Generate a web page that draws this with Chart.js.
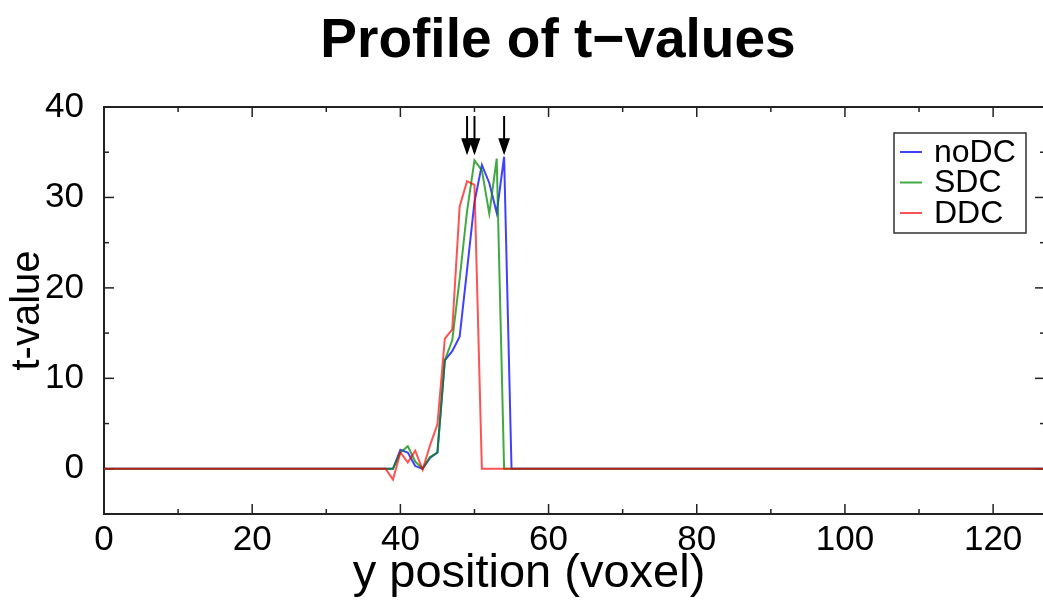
<!DOCTYPE html>
<html>
<head>
<meta charset="utf-8">
<script src="https://cdn.jsdelivr.net/npm/chart.js@4/dist/chart.umd.min.js"></script>
<style>
  html, body { margin: 0; padding: 0; background: #fff; overflow: hidden; }
  #profile_chart { display: block; }
</style>
</head>
<body>
<canvas id="profile_chart" width="1050" height="601"></canvas>
<script>
// t-values along y (voxel index = array position, 0..127)
const noDC = [
  0, 0, 0, 0, 0, 0, 0, 0, 0, 0, 0, 0, 0, 0, 0, 0,
  0, 0, 0, 0, 0, 0, 0, 0, 0, 0, 0, 0, 0, 0, 0, 0,
  0, 0, 0, 0, 0, 0, 0, 0, 2.1, 1.8, 0.3, 0.0, 1.2, 1.8, 12.0, 13.0,
  14.6, 22.0, 29.5, 33.6, 31.6, 28.3, 34.5, 0, 0, 0, 0, 0, 0, 0, 0, 0,
  0, 0, 0, 0, 0, 0, 0, 0, 0, 0, 0, 0, 0, 0, 0, 0,
  0, 0, 0, 0, 0, 0, 0, 0, 0, 0, 0, 0, 0, 0, 0, 0,
  0, 0, 0, 0, 0, 0, 0, 0, 0, 0, 0, 0, 0, 0, 0, 0,
  0, 0, 0, 0, 0, 0, 0, 0, 0, 0, 0, 0, 0, 0, 0, 0
];
const SDC = [
  0, 0, 0, 0, 0, 0, 0, 0, 0, 0, 0, 0, 0, 0, 0, 0,
  0, 0, 0, 0, 0, 0, 0, 0, 0, 0, 0, 0, 0, 0, 0, 0,
  0, 0, 0, 0, 0, 0, 0, 0, 1.8, 2.5, 0.8, 0.0, 1.3, 1.8, 12.0, 14.2,
  21.0, 28.5, 34.1, 33.0, 28.2, 34.3, 0, 0, 0, 0, 0, 0, 0, 0, 0, 0,
  0, 0, 0, 0, 0, 0, 0, 0, 0, 0, 0, 0, 0, 0, 0, 0,
  0, 0, 0, 0, 0, 0, 0, 0, 0, 0, 0, 0, 0, 0, 0, 0,
  0, 0, 0, 0, 0, 0, 0, 0, 0, 0, 0, 0, 0, 0, 0, 0,
  0, 0, 0, 0, 0, 0, 0, 0, 0, 0, 0, 0, 0, 0, 0, 0
];
const DDC = [
  0, 0, 0, 0, 0, 0, 0, 0, 0, 0, 0, 0, 0, 0, 0, 0,
  0, 0, 0, 0, 0, 0, 0, 0, 0, 0, 0, 0, 0, 0, 0, 0,
  0, 0, 0, 0, 0, 0, 0, -1.2, 1.8, 0.7, 2.0, -0.1, 2.6, 4.9, 14.4, 15.4,
  29.0, 31.8, 31.4, 0, 0, 0, 0, 0, 0, 0, 0, 0, 0, 0, 0, 0,
  0, 0, 0, 0, 0, 0, 0, 0, 0, 0, 0, 0, 0, 0, 0, 0,
  0, 0, 0, 0, 0, 0, 0, 0, 0, 0, 0, 0, 0, 0, 0, 0,
  0, 0, 0, 0, 0, 0, 0, 0, 0, 0, 0, 0, 0, 0, 0, 0,
  0, 0, 0, 0, 0, 0, 0, 0, 0, 0, 0, 0, 0, 0, 0, 0
];

// peak markers (arrows above the curves)
const peakX = [49, 50, 54];
const arrowFrom = 39;
const arrowTo = 35;

const xTicks = [0, 20, 40, 60, 80, 100, 120];
const xMinorTicks = [10, 30, 50, 70, 90, 110];
const yTicks = [0, 10, 20, 30, 40];
const yMinorTicks = [-5, 5, 15, 25, 35];

const FONT = '"Liberation Sans", Arial, Helvetica, sans-serif';

const toPoints = arr => arr.map((v, i) => ({ x: i, y: v }));

// frame with inward ticks on all four sides
const framePlugin = {
  id: 'frame',
  beforeDatasetsDraw(chart) {
    const { ctx, chartArea: a, scales: { x, y } } = chart;
    ctx.save();
    ctx.strokeStyle = '#222';
    ctx.lineWidth = 2;
    ctx.strokeRect(a.left, a.top, a.right - a.left, a.bottom - a.top);
    ctx.lineWidth = 1.5;
    const tick = (x1, y1, x2, y2) => { ctx.beginPath(); ctx.moveTo(x1, y1); ctx.lineTo(x2, y2); ctx.stroke(); };
    xTicks.forEach(v => { const p = x.getPixelForValue(v); tick(p, a.bottom, p, a.bottom - 10); tick(p, a.top, p, a.top + 10); });
    xMinorTicks.forEach(v => { const p = x.getPixelForValue(v); tick(p, a.bottom, p, a.bottom - 5); tick(p, a.top, p, a.top + 5); });
    yTicks.forEach(v => { const p = y.getPixelForValue(v); tick(a.left, p, a.left + 10, p); tick(a.right, p, a.right - 10, p); });
    yMinorTicks.forEach(v => { const p = y.getPixelForValue(v); tick(a.left, p, a.left + 5, p); tick(a.right, p, a.right - 5, p); });
    ctx.restore();
  }
};

const decorPlugin = {
  id: 'decor',
  afterDraw(chart) {
    const { ctx, chartArea: a, scales: { x, y } } = chart;
    ctx.save();
    ctx.fillStyle = '#000';

    // title
    ctx.font = 'bold 55px ' + FONT;
    ctx.textAlign = 'center';
    ctx.textBaseline = 'alphabetic';
    ctx.fillText('Profile of t\u2212values', 558, 57);

    // axis titles
    ctx.font = '47px ' + FONT;
    ctx.fillText('y position (voxel)', 529, 587);
    ctx.font = '40px ' + FONT;
    ctx.textBaseline = 'middle';
    ctx.save();
    ctx.translate(28, (a.top + a.bottom) / 2);
    ctx.rotate(-Math.PI / 2);
    ctx.fillText('t-value', 0, 0);
    ctx.restore();

    // arrows marking peak positions
    ctx.strokeStyle = '#000';
    ctx.lineWidth = 2;
    peakX.forEach(v => {
      const px = x.getPixelForValue(v);
      const y1 = y.getPixelForValue(arrowFrom);
      const y2 = y.getPixelForValue(arrowTo);
      ctx.beginPath();
      ctx.moveTo(px, y1);
      ctx.lineTo(px, y2);
      ctx.stroke();
      ctx.beginPath();
      ctx.moveTo(px - 4.5, y2 - 13);
      ctx.lineTo(px, y2);
      ctx.lineTo(px + 4.5, y2 - 13);
      ctx.closePath();
      ctx.fill();
      ctx.stroke();
    });

    // legend box
    const ds = chart.data.datasets;
    const bx = a.right - 151, by = a.top + 26, bw = 132, bh = 100;
    ctx.fillStyle = '#fff';
    ctx.fillRect(bx, by, bw, bh);
    ctx.strokeStyle = '#333';
    ctx.lineWidth = 1.5;
    ctx.strokeRect(bx, by, bw, bh);
    ctx.font = '32px ' + FONT;
    ctx.textAlign = 'left';
    ctx.textBaseline = 'middle';
    ds.forEach((d, i) => {
      const ry = by + 19 + i * 30.5;
      ctx.strokeStyle = d.borderColor;
      ctx.lineWidth = 2;
      ctx.beginPath();
      ctx.moveTo(bx + 6, ry);
      ctx.lineTo(bx + 28, ry);
      ctx.stroke();
      ctx.fillStyle = '#000';
      ctx.fillText(d.label, bx + 40, ry + 1);
    });
    ctx.restore();
  }
};

// order: lower number is drawn on top, so DDC ends up over SDC over noDC
const lineSet = (label, data, color, order) => ({
  label,
  data: toPoints(data),
  borderColor: color,
  borderWidth: 2,
  pointRadius: 0,
  tension: 0,
  fill: false,
  order
});

new Chart(document.getElementById('profile_chart').getContext('2d'), {
  type: 'line',
  data: {
    datasets: [
      lineSet('noDC', noDC, 'rgba(0, 0, 255, 0.75)', 2),
      lineSet('SDC', SDC, 'rgba(0, 140, 0, 0.75)', 1),
      lineSet('DDC', DDC, 'rgba(255, 0, 0, 0.68)', 0)
    ]
  },
  options: {
    responsive: false,
    animation: false,
    layout: { padding: { left: 0, top: 107, right: 5, bottom: 0 } },
    scales: {
      x: {
        type: 'linear',
        min: 0,
        max: 127,
        grid: { display: false },
        border: { display: false },
        afterBuildTicks: s => { s.ticks = xTicks.map(v => ({ value: v })); },
        afterFit: s => { s.height = 87; },
        ticks: { color: '#000', padding: -3, maxRotation: 0, font: { family: FONT, size: 35 } }
      },
      y: {
        min: -5,
        max: 40,
        grid: { display: false },
        border: { display: false },
        afterBuildTicks: s => { s.ticks = yTicks.map(v => ({ value: v })); },
        afterFit: s => { s.width = 104; },
        ticks: { color: '#000', padding: 12, font: { family: FONT, size: 35 } }
      }
    },
    plugins: {
      legend: { display: false },
      title: { display: false },
      tooltip: { enabled: false }
    }
  },
  plugins: [framePlugin, decorPlugin]
});
</script>
</body>
</html>
